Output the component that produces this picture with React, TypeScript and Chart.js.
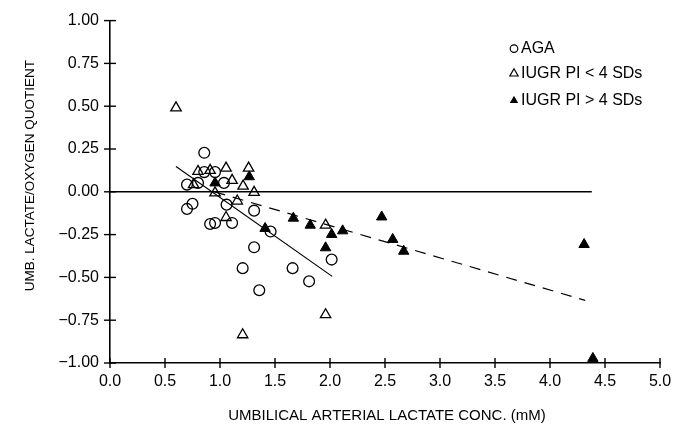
import React, { useEffect, useRef } from "react";
import { Chart, registerables } from "chart.js";

Chart.register(...registerables);

// ---- data ----
const agaX = [0.857, 0.857, 0.955, 0.70, 0.80, 1.036, 0.75, 0.70, 1.06, 1.31, 0.91, 0.955, 1.11, 1.46, 1.31, 1.206, 1.66, 1.81, 1.357, 2.015];
const agaY = [0.228, 0.115, 0.115, 0.042, 0.052, 0.052, -0.07, -0.10, -0.075, -0.11, -0.188, -0.182, -0.182, -0.232, -0.324, -0.446, -0.446, -0.523, -0.575, -0.396];

const iugrLowX = [0.60, 0.80, 0.91, 1.055, 1.26, 0.76, 1.11, 1.21, 0.955, 1.31, 1.157, 1.055, 1.96, 1.96, 1.206];
const iugrLowY = [0.49, 0.119, 0.125, 0.138, 0.138, 0.042, 0.067, 0.033, -0.006, -0.003, -0.054, -0.15, -0.195, -0.718, -0.835];

const iugrHighX = [1.266, 0.955, 1.41, 1.667, 1.82, 2.015, 2.115, 1.96, 2.47, 2.57, 2.67, 4.31, 4.39];
const iugrHighY = [0.088, 0.052, -0.214, -0.154, -0.195, -0.249, -0.228, -0.327, -0.147, -0.278, -0.347, -0.308, -0.973];

const zeroLineX = [0, 4.38];
const zeroLineY = [0, 0];
const agaFitX = [0.6, 2.02];
const agaFitY = [0.148, -0.494];
const iugrFitX = [0.95, 4.32];
const iugrFitY = [0.0, -0.634];

const xTickValues = [0, 0.5, 1, 1.5, 2, 2.5, 3, 3.5, 4, 4.5, 5];
const yTickValues = [-1, -0.75, -0.5, -0.25, 0, 0.25, 0.5, 0.75, 1];

const seriesLabels = ["AGA", "IUGR PI < 4 SDs", "IUGR PI > 4 SDs"];
const xTitle = "UMBILICAL ARTERIAL LACTATE CONC. (mM)";
const yTitle = "UMB. LACTATE/OXYGEN QUOTIENT";

const FONT = "'Liberation Sans', Arial, Helvetica, sans-serif";

const pts = (xs: number[], ys: number[]) => xs.map((x, i) => ({ x, y: ys[i] }));

function drawMarker(ctx: CanvasRenderingContext2D, kind: string, x: number, y: number, r: number) {
  ctx.beginPath();
  if (kind === "circle") {
    ctx.arc(x, y, r, 0, Math.PI * 2);
    ctx.stroke();
  } else {
    let rad = 0;
    ctx.moveTo(x + Math.sin(rad) * r, y - Math.cos(rad) * r);
    rad += (2 * Math.PI) / 3;
    ctx.lineTo(x + Math.sin(rad) * r, y - Math.cos(rad) * r);
    rad += (2 * Math.PI) / 3;
    ctx.lineTo(x + Math.sin(rad) * r, y - Math.cos(rad) * r);
    ctx.closePath();
    if (kind === "filled") ctx.fill();
    else ctx.stroke();
  }
}

const decorPlugin = {
  id: "decor",
  afterDraw(chart: any) {
    const { ctx, chartArea, scales } = chart;
    const xs = scales.x;
    const ys = scales.y;
    ctx.save();
    ctx.strokeStyle = "#000";
    ctx.fillStyle = "#000";
    ctx.lineWidth = 1.4;
    // tick marks crossing the axes
    xTickValues.forEach((v) => {
      const px = xs.getPixelForValue(v);
      ctx.beginPath();
      ctx.moveTo(px, chartArea.bottom - 5);
      ctx.lineTo(px, chartArea.bottom + 5);
      ctx.stroke();
    });
    yTickValues.forEach((v) => {
      const py = ys.getPixelForValue(v);
      ctx.beginPath();
      ctx.moveTo(chartArea.left - 6, py);
      ctx.lineTo(chartArea.left + 6, py);
      ctx.stroke();
    });
    // axis titles
    ctx.textAlign = "center";
    ctx.textBaseline = "middle";
    ctx.font = `15px ${FONT}`;
    ctx.fillText(xTitle, (chartArea.left + chartArea.right) / 2 + 2, chartArea.bottom + 53);
    ctx.save();
    ctx.font = `13.5px ${FONT}`;
    ctx.translate(chartArea.left - 80, chartArea.top + 155);
    ctx.rotate(-Math.PI / 2);
    ctx.fillText(yTitle, 0, 0);
    ctx.restore();
    // legend
    const kinds = ["circle", "open", "filled"];
    const lx = chartArea.left + 404;
    const rows = [28, 53, 80];
    ctx.textAlign = "left";
    ctx.font = `16px ${FONT}`;
    ctx.lineWidth = 1.2;
    kinds.forEach((k, i) => {
      const ly = chartArea.top + rows[i];
      drawMarker(ctx, k, lx, ly, k === "circle" ? 3.8 : 4.8);
      ctx.fillText(seriesLabels[i], lx + 7, ly);
    });
    ctx.restore();
  },
};

export default function App() {
  const ref = useRef<HTMLCanvasElement | null>(null);

  useEffect(() => {
    if (!ref.current) return;
    const chart = new Chart(ref.current, {
      type: "scatter",
      data: {
        datasets: [
          {
            label: seriesLabels[0],
            data: pts(agaX, agaY),
            pointStyle: "circle",
            pointRadius: 5.4,
            pointBorderWidth: 1.3,
            pointBorderColor: "#000",
            pointBackgroundColor: "rgba(0,0,0,0)",
          },
          {
            label: seriesLabels[1],
            data: pts(iugrLowX, iugrLowY),
            pointStyle: "triangle",
            pointRadius: 6,
            pointBorderWidth: 1.3,
            pointBorderColor: "#000",
            pointBackgroundColor: "rgba(0,0,0,0)",
          },
          {
            label: seriesLabels[2],
            data: pts(iugrHighX, iugrHighY),
            pointStyle: "triangle",
            pointRadius: 6,
            pointBorderWidth: 1,
            pointBorderColor: "#000",
            pointBackgroundColor: "#000",
          },
          {
            type: "line",
            label: "zero",
            data: pts(zeroLineX, zeroLineY),
            borderColor: "#000",
            borderWidth: 1.6,
            pointRadius: 0,
            showLine: true,
            fill: false,
          } as any,
          {
            type: "line",
            label: "AGA fit",
            data: pts(agaFitX, agaFitY),
            borderColor: "#000",
            borderWidth: 1.2,
            pointRadius: 0,
            showLine: true,
            fill: false,
          } as any,
          {
            type: "line",
            label: "IUGR fit",
            data: pts(iugrFitX, iugrFitY),
            borderColor: "#000",
            borderWidth: 1.2,
            borderDash: [11, 8],
            pointRadius: 0,
            showLine: true,
            fill: false,
          } as any,
        ],
      },
      options: {
        animation: false,
        responsive: false,
        layout: { padding: { top: 15, right: 29, left: 0, bottom: 0 } },
        plugins: {
          legend: { display: false },
          tooltip: { enabled: false },
        },
        scales: {
          x: {
            type: "linear",
            min: 0,
            max: 5,
            grid: { display: false, drawTicks: false },
            border: { display: true, color: "#000", width: 1.6 },
            ticks: {
              stepSize: 0.5,
              padding: 9,
              color: "#000",
              font: { family: FONT, size: 16 },
              maxRotation: 0,
              autoSkip: false,
              callback: (v: any) => Number(v).toFixed(1),
            },
            afterFit: (s: any) => {
              s.height = 64;
            },
          },
          y: {
            type: "linear",
            min: -1,
            max: 1,
            grid: { display: false, drawTicks: false },
            border: { display: true, color: "#000", width: 1.6 },
            ticks: {
              stepSize: 0.25,
              padding: 11,
              color: "#000",
              font: { family: FONT, size: 16 },
              autoSkip: false,
              callback: (v: any) => Number(v).toFixed(2).replace("-", "\u2212"),
            },
            afterFit: (s: any) => {
              s.width = 110;
            },
          },
        },
      },
      plugins: [decorPlugin],
    });
    return () => chart.destroy();
  }, []);

  return (
    <div style={{ position: "fixed", left: 0, top: 0, width: 689, height: 427, background: "#fff" }}>
      <canvas ref={ref} width={689} height={427} />
    </div>
  );
}
